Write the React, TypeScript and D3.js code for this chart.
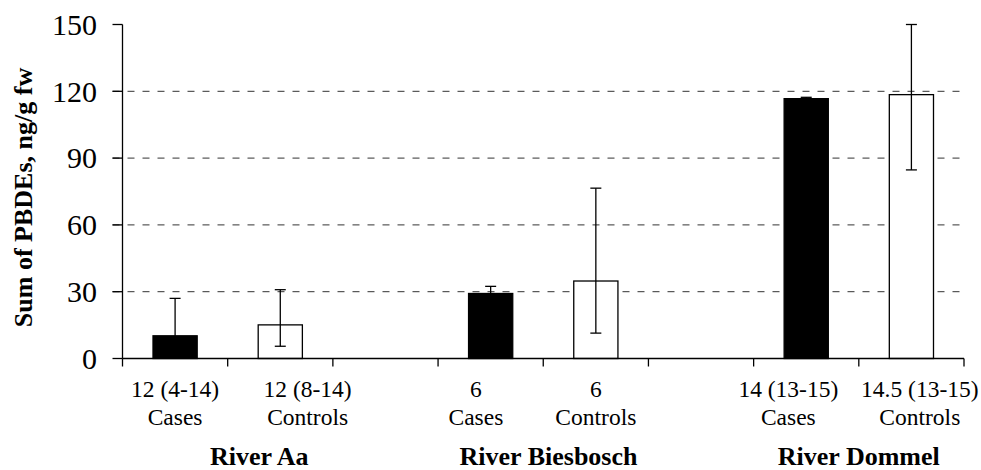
import * as React from 'react';
import * as d3 from 'd3';

// one slot per position on the x axis, empty slots separate the rivers
const slots = ['aa-cases', 'aa-controls', 'gap-1', 'bies-cases', 'bies-controls', 'gap-2', 'dom-cases', 'dom-controls'];
const ageLabels = ['12 (4-14)', '12 (8-14)', '', '6', '6', '', '14 (13-15)', '14.5 (13-15)'];
const typeLabels = ['Cases', 'Controls', '', 'Cases', 'Controls', '', 'Cases', 'Controls'];
// the labels were placed by hand in the original, shift in slot units
const labelShift = [0, 0.26, 0, -0.14, 0, 0, -0.17, 0.08];
const means: (number | null)[] = [10.2, 15.1, null, 29.2, 34.8, null, 116.7, 118.5];
const errHigh: (number | null)[] = [27, 30.9, null, 32.4, 76.5, null, 117.3, 150];
const errLow: (number | null)[] = [5, 5.5, null, 26, 11.4, null, 116, 84.7];
const isCase = [true, false, false, true, false, false, true, false];

const groupNames = ['River Aa', 'River Biesbosch', 'River Dommel'];
const groupAt = [1.3, 4.05, 7.0]; // centre, in slot units from the axis origin

const yTicks = [0, 30, 60, 90, 120, 150];
const gridTicks = [30, 60, 90, 120];

const W = 981;
const H = 470;
const serif = 'Liberation Serif';

export default function App() {
  const left = 122.5;
  const right = 964;
  const top = 24.5;
  const bottom = 358.5;

  const x = d3.scaleBand<string>().domain(slots).range([left, right]).padding(0);
  const y = d3.scaleLinear().domain([0, 150]).range([bottom, top]);
  const bw = x.bandwidth();
  const barW = bw * 0.42;
  const slotX = (u: number) => left + u * bw;

  const boundaries = d3.range(slots.length + 1).map(i => left + i * bw);

  return (
    <div style={{position: 'absolute', left: 0, top: 0}}>
      <svg width={W} height={H} style={{display: 'block', background: '#fff'}}>
        {/* grid */}
        {gridTicks.map(t => (
          <line key={'g' + t} x1={left - 10} x2={right - 3} y1={y(t)} y2={y(t)}
            stroke="#333" strokeWidth={1} strokeDasharray="7,8" />
        ))}

        {/* bars */}
        {slots.map((s, i) => {
          const m = means[i];
          if (m == null) return null;
          const cx = (x(s) as number) + bw / 2;
          return (
            <rect key={s} x={cx - barW / 2} y={y(m)} width={barW} height={bottom - y(m)}
              fill={isCase[i] ? '#000' : '#fff'} stroke="#000" strokeWidth={1.3} />
          );
        })}

        {/* error bars */}
        {slots.map((s, i) => {
          const hi = errHigh[i];
          const lo = errLow[i];
          if (hi == null || lo == null) return null;
          const cx = (x(s) as number) + bw / 2;
          return (
            <g key={'e' + s} stroke="#000" strokeWidth={1.3}>
              <line x1={cx} x2={cx} y1={y(hi)} y2={y(lo)} />
              <line x1={cx - 5.5} x2={cx + 5.5} y1={y(hi)} y2={y(hi)} />
              <line x1={cx - 5.5} x2={cx + 5.5} y1={y(lo)} y2={y(lo)} />
            </g>
          );
        })}

        {/* y axis */}
        <line x1={left} x2={left} y1={top} y2={bottom} stroke="#000" strokeWidth={1.3} />
        {yTicks.map(t => (
          <g key={'y' + t}>
            <line x1={left - 10} x2={left} y1={y(t)} y2={y(t)} stroke="#000" strokeWidth={1.3} />
            <text x={97} y={y(t)} dy="0.34em" textAnchor="end" fontFamily={serif} fontSize={30}>{t}</text>
          </g>
        ))}
        <text transform="translate(32,197.5) rotate(-90)" textAnchor="middle"
          fontFamily={serif} fontSize={26} fontWeight="bold">Sum of PBDEs, ng/g fw</text>

        {/* x axis */}
        <line x1={left} x2={right} y1={bottom} y2={bottom} stroke="#000" strokeWidth={1.3} />
        {boundaries.map((bx, i) => (
          <line key={'xt' + i} x1={bx} x2={bx} y1={bottom} y2={bottom + 8} stroke="#000" strokeWidth={1.3} />
        ))}
        {slots.map((s, i) => {
          const cx = (x(s) as number) + bw / 2 + labelShift[i] * bw;
          return (
            <g key={'xl' + s} fontFamily={serif} fontSize={23.5} textAnchor="middle">
              <text x={cx} y={397}>{ageLabels[i]}</text>
              <text x={cx} y={425}>{typeLabels[i]}</text>
            </g>
          );
        })}
        {groupNames.map((g, i) => (
          <text key={g} x={slotX(groupAt[i])} y={465} textAnchor="middle" fontFamily={serif}
            fontSize={26} fontWeight="bold">{g}</text>
        ))}
      </svg>
    </div>
  );
}
